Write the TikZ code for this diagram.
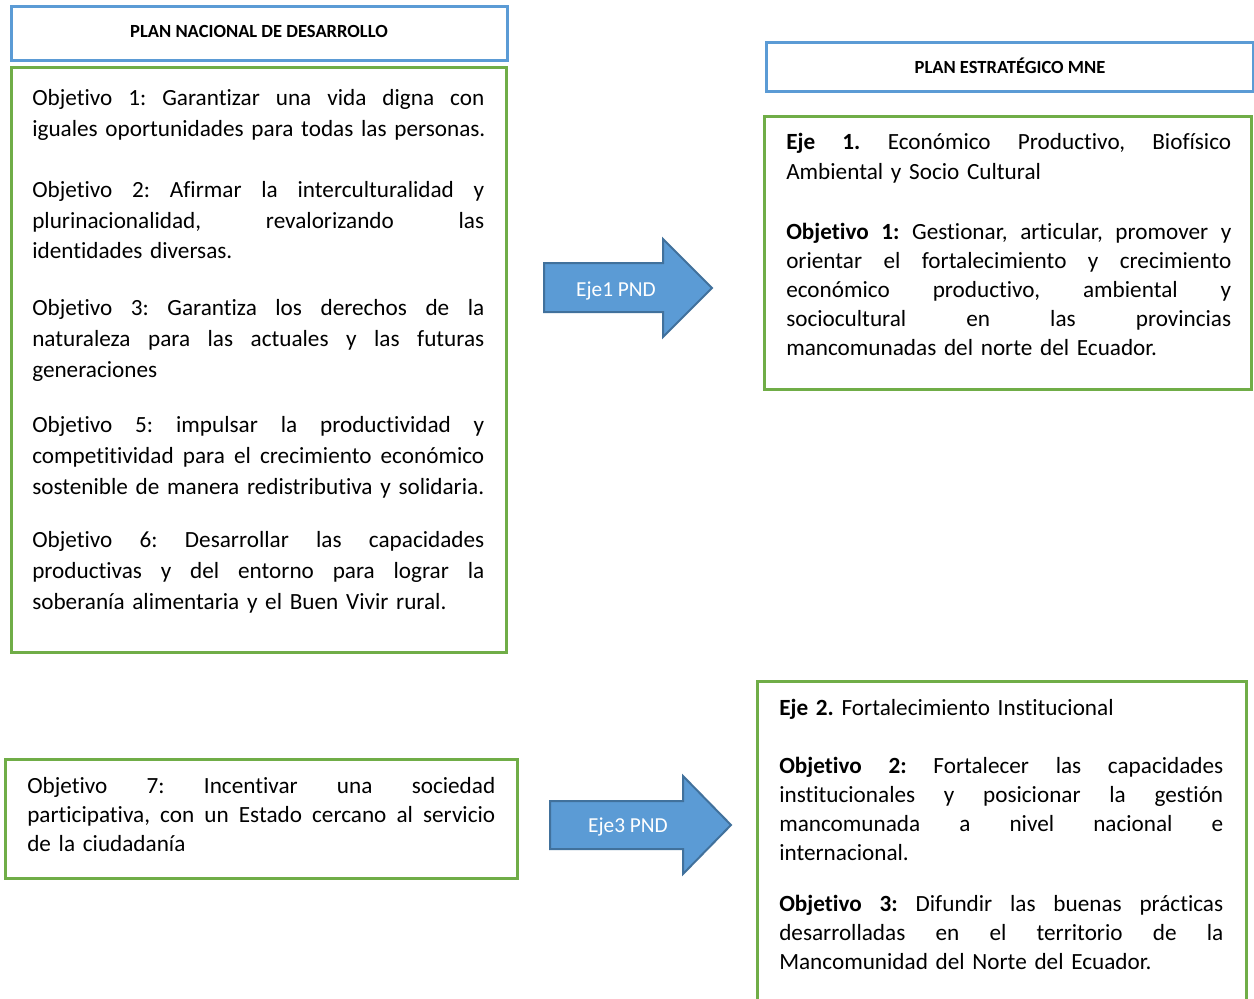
\documentclass[tikz,border=0pt]{standalone}
\usepackage{fontspec}
\setmainfont{Carlito}[Ligatures=NoCommon]
\usetikzlibrary{fit}
\hbadness=10000
\hfuzz=20pt
\definecolor{bblue}{HTML}{5B9BD5}
\definecolor{ggreen}{HTML}{70AD47}
\definecolor{adark}{HTML}{41719C}
\newdimen\LW
\newcommand\jl[1]{\hbox to\LW{\spaceskip=.226em plus 1fil\relax\xspaceskip=\spaceskip #1}}
\begin{document}
\begin{tikzpicture}[x=0.75pt,y=-0.75pt,
  bluebox/.style={draw=bblue,line width=2.25pt,inner sep=0pt},
  greenbox/.style={draw=ggreen,line width=2.25pt,inner sep=0pt},
  titletxt/.style={inner sep=0pt,anchor=base,font=\fontsize{13.9}{16}\selectfont\bfseries},
  txtL/.style={inner sep=0pt,anchor=base west,text width=#1,
    execute at begin node={\LW=#1\relax},
    font=\fontsize{17.4}{23.25}\selectfont\frenchspacing},
  txtR/.style={inner sep=0pt,anchor=base west,text width=#1,
    execute at begin node={\LW=#1\relax},
    font=\fontsize{17.4}{21.75}\selectfont\frenchspacing},
  arrowshape/.style={fill=bblue,draw=adark,line width=1.5pt},
  arrowlbl/.style={inner sep=0pt,anchor=base,text=white,font=\fontsize{16}{19}\selectfont}
]
\useasboundingbox (0,0) rectangle (1254,999);
\fill[white] (0,0) rectangle (1254,999);

% Left column
\node[bluebox, fit={(11,7) (507,61)}] (pndtitlebox) {};
\node[titletxt] (pndtitle) at (259,37.5) {PLAN NACIONAL DE DESARROLLO};
\node[greenbox, fit={(11,68) (506,652)}] (pndbox) {};

\node[txtL=339pt] (o1) at (32,106) {%
\jl{Objetivo 1: Garantizar una vida digna con}
\hbox{iguales oportunidades para todas las personas.}};
\node[txtL=339pt] (o2) at (32,197) {%
\jl{Objetivo 2: Afirmar la interculturalidad y}
\jl{plurinacionalidad, revalorizando las}
\hbox{identidades diversas.}};
\node[txtL=339pt] (o3) at (32,315) {%
\jl{Objetivo 3: Garantiza los derechos de la}
\jl{naturaleza para las actuales y las futuras}
\hbox{generaciones}};
\node[txtL=339pt] (o5) at (32,432) {%
\jl{Objetivo 5: impulsar la productividad y}
\jl{competitividad para el crecimiento económico}
\hbox{sostenible de manera redistributiva y solidaria.}};
\node[txtL=339pt] (o6) at (32,547) {%
\jl{Objetivo 6: Desarrollar las capacidades}
\jl{productivas y del entorno para lograr la}
\hbox{soberanía alimentaria y el Buen Vivir rural.}};

\node[greenbox, fit={(5,759) (517,878)}] (o7box) {};
\node[txtR=351pt] (o7) at (27,793) {%
\jl{Objetivo 7: Incentivar una sociedad}
\jl{participativa, con un Estado cercano al servicio}
\hbox{de la ciudadanía}};

% Right column
\node[bluebox, fit={(766,43) (1253,92)}] (mnetitlebox) {};
\node[titletxt] (mnetitle) at (1010,74) {PLAN ESTRATÉGICO MNE};
\node[greenbox, fit={(764,117) (1251,389)}] (eje1box) {};
\node[txtR=333.75pt] (eje1) at (786,150) {%
\jl{\textbf{Eje 1.} Económico Productivo, Biofísico}
\hbox{Ambiental y Socio Cultural}};
\node[txtR=333.75pt] (mo1) at (786,239) {%
\jl{\textbf{Objetivo 1:} Gestionar, articular, promover y}
\jl{orientar el fortalecimiento y crecimiento}
\jl{económico productivo, ambiental y}
\jl{sociocultural en las provincias}
\hbox{mancomunadas del norte del Ecuador.}};

\node[greenbox, fit={(757,681) (1246,1015)}] (eje2box) {};
\node[txtR=333pt] (eje2) at (779,715) {%
\hbox{\textbf{Eje 2.} Fortalecimiento Institucional}};
\node[txtR=333pt] (mo2) at (779,773) {%
\jl{\textbf{Objetivo 2:} Fortalecer las capacidades}
\jl{institucionales y posicionar la gestión}
\jl{mancomunada a nivel nacional e}
\hbox{internacional.}};
\node[txtR=333pt] (mo3) at (779,911) {%
\jl{\textbf{Objetivo 3:} Difundir las buenas prácticas}
\jl{desarrolladas en el territorio de la}
\hbox{Mancomunidad del Norte del Ecuador.}};

% Arrows
\draw[arrowshape] (544,263) -- (663,263) -- (663,239) -- (712,288) -- (663,337) -- (663,312) -- (544,312) -- cycle;
\node[arrowlbl] (eje1pnd) at (616,296) {Eje1 PND};
\draw[arrowshape] (550,801) -- (683,801) -- (683,776) -- (731,825) -- (683,874) -- (683,849) -- (550,849) -- cycle;
\node[arrowlbl] (eje3pnd) at (628,832) {Eje3 PND};
\end{tikzpicture}
\end{document}
